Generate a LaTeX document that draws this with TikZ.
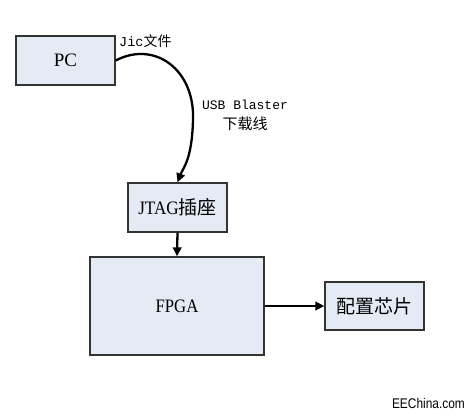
\documentclass[tikz,border=0pt]{standalone}
\usepackage{fontspec}
\usepackage{graphicx}
\setmainfont{Liberation Serif}
\newfontfamily\cjk{Noto Sans CJK SC}
\newfontfamily\monof{Liberation Mono}
\newfontfamily\sansf{Liberation Sans}
\usetikzlibrary{arrows.meta}
\definecolor{boxfill}{HTML}{E5EBF5}
\definecolor{boxline}{HTML}{333333}
\tikzset{
  blk/.style={draw=boxline, line width=1.3pt, fill=boxfill, inner sep=0pt, align=center},
  conn/.style={line width=2.3pt, -{Triangle[length=9pt,width=8.5pt]}},
  lbl/.style={inner sep=0pt, align=center}
}
\begin{document}
\begin{tikzpicture}[x=1pt,y=-1pt]
\useasboundingbox (0,0) rectangle (472,416);
\node[blk, minimum width=99pt, minimum height=49pt] (pc) at (65.5,60.5) {\fontsize{19}{20}\selectfont PC};
\node[blk, minimum width=99pt, minimum height=49pt] (jtag) at (177.5,207.5) {\scalebox{0.9}[1]{\fontsize{19}{20}\selectfont JTAG}{\cjk\fontsize{19}{20}\selectfont 插座}};
\node[blk, minimum width=174pt, minimum height=98pt] (fpga) at (177,306) {\scalebox{0.88}[1]{\fontsize{19}{20}\selectfont FPGA}};
\node[blk, minimum width=99pt, minimum height=48pt] (pz) at (374.5,306) {\cjk\fontsize{19}{20}\selectfont 配置芯片};
\coordinate (jt) at (jtag.north);
\draw[conn] (pc.east) .. controls (155,40) and (195,70) .. (193,120) .. controls (192,160) and (183,168) .. (jt);
\draw[conn] (jtag.south) -- (fpga.north);
\draw[conn] (fpga.east |- pz.west) -- (pz.west);
\node[lbl, anchor=west] (jic) at (119,41) {\monof\fontsize{13.5}{15}\selectfont Jic{\cjk\fontsize{14}{15}\selectfont 文件}};
\node[lbl] (usb) at (245,105) {\monof\fontsize{13}{15}\selectfont USB Blaster};
\node[lbl] (xz) at (245,124) {\cjk\fontsize{15}{16}\selectfont 下载线};
\node[lbl, anchor=east] (ee) at (465,403) {\scalebox{0.85}[1]{\sansf\fontsize{14}{16}\selectfont EEChina.com}};
\end{tikzpicture}
\end{document}
